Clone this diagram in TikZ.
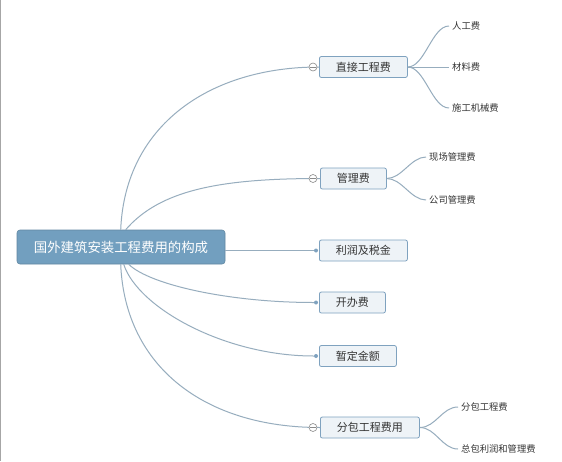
\documentclass[tikz,border=0pt]{standalone}
\usepackage{fontspec}
\newfontfamily\cjk{Noto Sans CJK SC}
\usetikzlibrary{calc}
\definecolor{rootblue}{HTML}{729FBF}
\definecolor{boxfill}{HTML}{EEF3F7}
\definecolor{boxline}{HTML}{7FA2BF}
\definecolor{linkc}{HTML}{97ADBE}
\definecolor{txt}{HTML}{333333}
\definecolor{markc}{HTML}{8A8A8A}
\tikzset{
  rootbox/.style={fill=rootblue, draw=rootblue!85!black, line width=0.6pt, rounded corners=3pt,
    minimum width=208pt, minimum height=34pt, inner sep=0pt,
    text=white, font=\cjk\fontsize{13.4}{15}\selectfont},
  childbox/.style={fill=boxfill, draw=boxline, line width=0.8pt, rounded corners=2pt,
    minimum height=21pt, inner xsep=16.5pt, inner ysep=0pt, anchor=west,
    text=txt, font=\cjk\fontsize{11}{13}\selectfont},
  leaf/.style={anchor=west, inner xsep=3pt, inner ysep=1pt, text=txt,
    font=\cjk\fontsize{9.3}{11}\selectfont},
  collapse/.style={circle, draw=markc, fill=white, line width=0.6pt, minimum size=8pt, inner sep=0pt,
    path picture={\draw[markc, line width=0.6pt] ([xshift=-3pt]path picture bounding box.center) -- ([xshift=3pt]path picture bounding box.center);}},
  dotmark/.style={circle, fill=boxline, minimum size=4pt, inner sep=0pt},
  linkline/.style={draw=linkc, line width=1pt},
}
\begin{document}
\begin{tikzpicture}[x=1pt,y=-1pt]
\useasboundingbox (0,0) rectangle (562,461);
\fill[white] (0,0) rectangle (562,461);
\draw[gray!70, line width=1pt] (0.5,0) -- (0.5,461);

% root
\node[rootbox] (root) at (121,247) {国外建筑安装工程费用的构成};

% children
\node[childbox] (c1) at (319,67) {直接工程费};
\node[childbox] (c2) at (320,178.5) {管理费};
\node[childbox] (c3) at (319,250.5) {利润及税金};
\node[childbox] (c4) at (319,302.5) {开办费};
\node[childbox] (c5) at (319,356) {暂定金额};
\node[childbox] (c6) at (320,427.5) {分包工程费用};

% markers
\node[dotmark] (d3) at (316,250.5) {};
\node[dotmark] (d4) at (316,302.5) {};
\node[dotmark] (d5) at (316,356) {};

% root anchor points
\coordinate (r1) at ($(root.north west)+(104,0)$);
\coordinate (r2) at ($(root.north west)+(109,0)$);
\coordinate (r4) at ($(root.south west)+(112,0)$);
\coordinate (r5) at ($(root.south west)+(107,0)$);
\coordinate (r6) at ($(root.south west)+(104,0)$);

% connectors from root
\path[linkline] (r1) .. controls (125,125) and (210,67) .. (c1.west);
\path[linkline] (r2) .. controls (160,190) and (220,178.5) .. (c2.west);
\path[linkline] (root.east |- d3) -- (d3);
\path[linkline] (r4) .. controls (150,285) and (230,302.5) .. (d4);
\path[linkline] (r5) .. controls (138,308) and (225,356) .. (d5);
\path[linkline] (r6) .. controls (125,367) and (205,427.5) .. (c6.west);

% collapse markers (drawn over the lines)
\node[collapse] (m1) at (313,67) {};
\node[collapse] (m2) at (313,178.5) {};
\node[collapse] (m6) at (313,427.5) {};

% leaves
\node[leaf] (l11) at (449,26) {人工费};
\node[leaf] (l12) at (449,67) {材料费};
\node[leaf] (l13) at (449,108) {施工机械费};
\node[leaf] (l21) at (426,157) {现场管理费};
\node[leaf] (l22) at (426,200) {公司管理费};
\node[leaf] (l61) at (458,407) {分包工程费};
\node[leaf] (l62) at (458,449) {总包利润和管理费};

\path[linkline] (c1.east) .. controls +(17,0) and +(-17,0) .. (l11.west);
\path[linkline] (c1.east) -- (l12.west);
\path[linkline] (c1.east) .. controls +(17,0) and +(-17,0) .. (l13.west);
\path[linkline] (c2.east) .. controls +(15,0) and +(-15,0) .. (l21.west);
\path[linkline] (c2.east) .. controls +(15,0) and +(-15,0) .. (l22.west);
\path[linkline] (c6.east) .. controls +(16,0) and +(-16,0) .. (l61.west);
\path[linkline] (c6.east) .. controls +(16,0) and +(-16,0) .. (l62.west);
\end{tikzpicture}
\end{document}
